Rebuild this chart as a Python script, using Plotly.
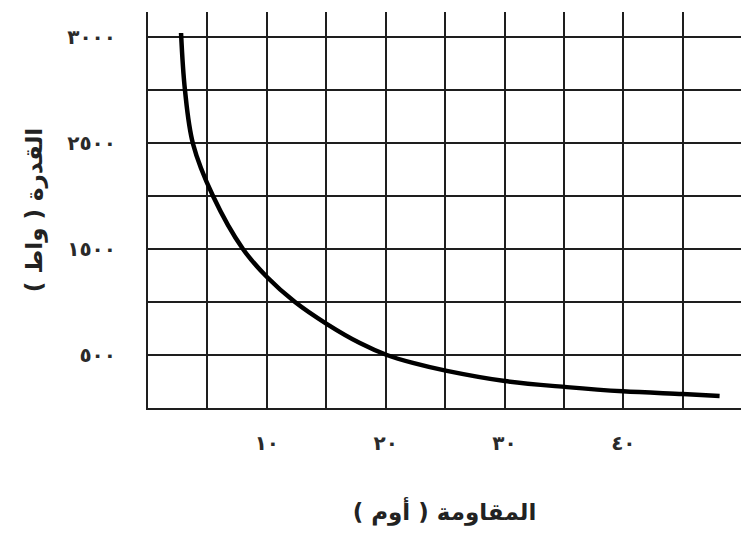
import plotly.graph_objects as go

# Resistance (ohm) and power (watt)
resistance = [2.78, 3.11, 3.79, 5.47, 7.99, 10.01, 12.37, 15.06, 17.83, 20.1,
              22.29, 25.15, 30.03, 35.25, 39.96, 45.0, 48.1]
power = [3538, 3000, 2491, 2000, 1500, 1236, 1000, 792, 613, 500,
         425, 350, 254, 197, 157, 131, 114]

x_tick_vals = [10, 20, 30, 40]
x_tick_text = ["١٠", "٢٠", "٣٠", "٤٠"]
y_tick_vals = [500, 1500, 2500, 3500]
y_tick_text = ["٥٠٠", "١٥٠٠", "٢٥٠٠", "٣٠٠٠"]

x_title = "المقاومة ( أوم )"
y_title = "القدرة ( واط )"

grid_color = "#1e1e1e"
label_font = dict(family="DejaVu Sans", size=20, color="#2a2a2a", weight="bold")
title_font = dict(family="DejaVu Sans", size=23, color="#222222", weight="bold")

fig = go.Figure()
fig.add_trace(go.Scatter(
    x=resistance, y=power, mode="lines",
    line=dict(color="#000000", width=4.5, shape="spline", smoothing=1.0),
    showlegend=False, hoverinfo="skip",
))

fig.update_xaxes(
    range=[0, 49.9], tickvals=x_tick_vals, ticktext=x_tick_text,
    showgrid=True, gridcolor=grid_color, gridwidth=2,
    minor=dict(dtick=5, tick0=0, showgrid=True, gridcolor=grid_color, gridwidth=2),
    showline=True, linecolor=grid_color, linewidth=2,
    zeroline=False, ticks="", ticklabelstandoff=16, tickfont=label_font,
    title=dict(text=x_title, font=title_font, standoff=50),
)
fig.update_yaxes(
    range=[0, 3736], tickvals=y_tick_vals, ticktext=y_tick_text,
    showgrid=True, gridcolor=grid_color, gridwidth=2,
    minor=dict(dtick=500, tick0=0, showgrid=True, gridcolor=grid_color, gridwidth=2),
    showline=True, linecolor=grid_color, linewidth=2,
    zeroline=False, ticks="", ticklabelstandoff=26, tickfont=label_font,
    title=dict(text=y_title, font=title_font, standoff=18),
)

fig.update_layout(
    width=741, height=543,
    margin=dict(l=148, r=0, t=12, b=135),
    plot_bgcolor="white", paper_bgcolor="white",
)

fig.write_html("out.html")
